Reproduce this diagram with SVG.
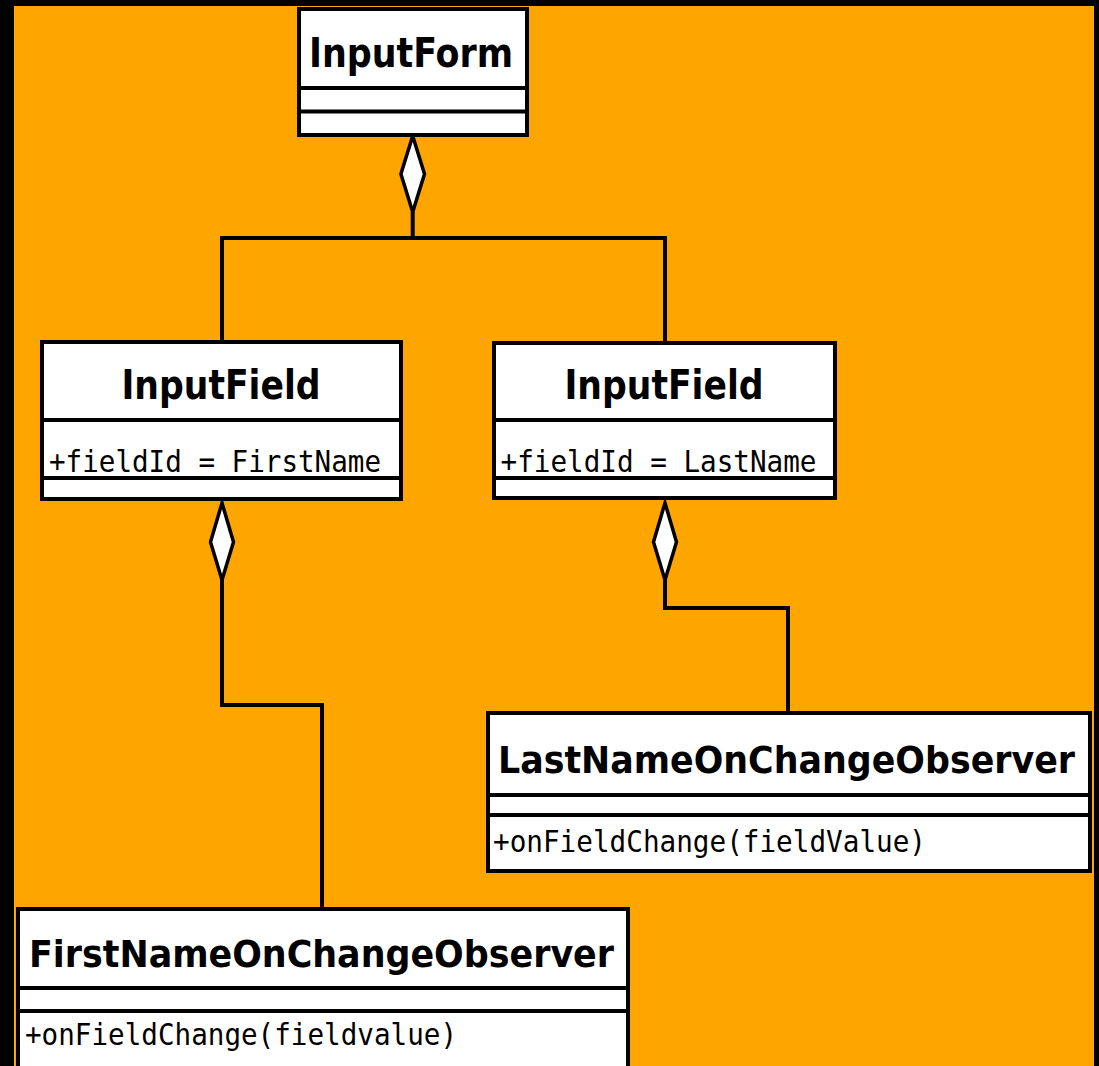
<svg xmlns="http://www.w3.org/2000/svg" width="1099" height="1066" viewBox="0 0 1099 1066">
<style>
.box{fill:#ffffff;stroke:#000000;stroke-width:4}
.sep{stroke:#000000;stroke-width:4;fill:none}
.title{font-family:"DejaVu Sans",sans-serif;font-weight:bold;font-stretch:condensed;fill:#000000}
.mono{font-family:"DejaVu Sans Mono",monospace;fill:#000000;font-size:30px}
.conn{stroke:#000000;stroke-width:4;fill:none}
.dia{fill:#ffffff;stroke:#000000;stroke-width:3.5;stroke-linejoin:miter}
</style>
<rect x="0" y="0" width="1099" height="1066" fill="#000000"/>
<rect x="14" y="6" width="1080" height="1060" fill="#FFA500"/>
<g id="connectors">
<polyline class="conn" points="412.7,212 412.7,238 222,238 222,341"/>
<polyline class="conn" points="412.7,238 665,238 665,341"/>
<polyline class="conn" points="222,580 222,705 322,705 322,908"/>
<polyline class="conn" points="665,580 665,608 788,608 788,712"/>
<polygon class="dia" points="412.7,136 424.5,174 412.7,212 400.9,174"/>
<polygon class="dia" points="222,503 233.5,542 222,580 210.5,542"/>
<polygon class="dia" points="665,503 676.5,542 665,580 653.5,542"/>
</g>
<g id="InputForm">
<rect class="box" x="299" y="9" width="228" height="126"/>
<line class="sep" x1="299" y1="88" x2="527" y2="88"/>
<line class="sep" x1="299" y1="111.5" x2="527" y2="111.5"/>
<text class="title" x="411" y="66.5" font-size="41" text-anchor="middle" textLength="204" lengthAdjust="spacingAndGlyphs">InputForm</text>
</g>
<g id="InputFieldFirst">
<rect class="box" x="42" y="342" width="359" height="157"/>
<line class="sep" x1="42" y1="420" x2="401" y2="420"/>
<line class="sep" x1="42" y1="478" x2="401" y2="478"/>
<text class="title" x="221" y="399" font-size="41" text-anchor="middle" textLength="199" lengthAdjust="spacingAndGlyphs">InputField</text>
<text class="mono" x="49" y="471.5" textLength="332" lengthAdjust="spacingAndGlyphs">+fieldId = FirstName</text>
</g>
<g id="InputFieldLast">
<rect class="box" x="494" y="343" width="341" height="155"/>
<line class="sep" x1="494" y1="420" x2="835" y2="420"/>
<line class="sep" x1="494" y1="478" x2="835" y2="478"/>
<text class="title" x="664" y="399" font-size="41" text-anchor="middle" textLength="199" lengthAdjust="spacingAndGlyphs">InputField</text>
<text class="mono" x="500.5" y="471.5" textLength="316" lengthAdjust="spacingAndGlyphs">+fieldId = LastName</text>
</g>
<g id="LastNameOnChangeObserver">
<rect class="box" x="488" y="713" width="602" height="158"/>
<line class="sep" x1="488" y1="795" x2="1090" y2="795"/>
<line class="sep" x1="488" y1="815" x2="1090" y2="815"/>
<text class="title" x="498" y="773" font-size="38" textLength="577" lengthAdjust="spacingAndGlyphs">LastNameOnChangeObserver</text>
<text class="mono" x="493" y="852" textLength="433" lengthAdjust="spacingAndGlyphs">+onFieldChange(fieldValue)</text>
</g>
<g id="FirstNameOnChangeObserver">
<rect class="box" x="18" y="909" width="610" height="200"/>
<line class="sep" x1="18" y1="988" x2="628" y2="988"/>
<line class="sep" x1="18" y1="1011" x2="628" y2="1011"/>
<text class="title" x="29" y="967" font-size="38" textLength="585" lengthAdjust="spacingAndGlyphs">FirstNameOnChangeObserver</text>
<text class="mono" x="25" y="1045" textLength="432" lengthAdjust="spacingAndGlyphs">+onFieldChange(fieldvalue)</text>
</g>
</svg>
